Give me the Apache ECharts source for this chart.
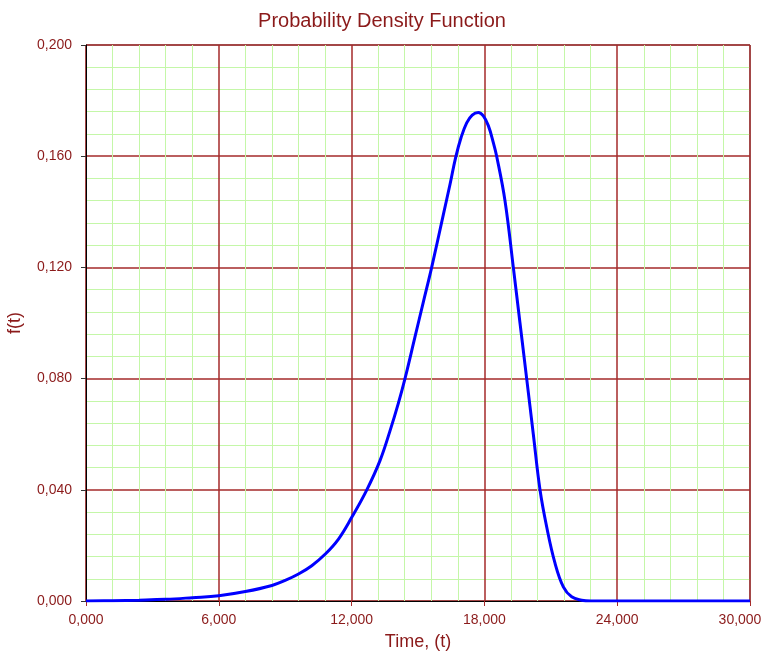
<!DOCTYPE html>
<html><head><meta charset="utf-8">
<script src="https://cdn.jsdelivr.net/npm/echarts@6/dist/echarts.min.js"></script>
<style>html,body{margin:0;padding:0;background:#fff}#c{width:764px;height:654px}</style>
</head><body><div id="c"></div>
<script>
const titleText = 'Probability Density Function';
const xName = 'Time, (t)';
const yName = 'f(t)';
const xTickLabels = ['0,000','6,000','12,000','18,000','24,000','30,000'];
const yTickLabels = ['0,000','0,040','0,080','0,120','0,160','0,200'];
const tValues = [0,1200,2400,3600,4800,6000,7200,8400,9000,9600,10200,10800,11400,12000,12682,13283,13735,14111,14412,14864,15240,15618,16145,16450,16700,16950,17200,17450,17724,17950,18177,18400,18554,18930,19307,19608,19910,20210,20512,20813,21190,21566,21943,22395,22800,30000];
const fValues = [0,0.0001,0.0003,0.0006,0.0012,0.0019,0.0034,0.0056,0.0074,0.0097,0.0127,0.0168,0.0222,0.0300,0.0399,0.0505,0.0612,0.0711,0.0800,0.0950,0.1075,0.1200,0.1390,0.1500,0.1595,0.1668,0.1720,0.1748,0.1757,0.1745,0.1710,0.1650,0.1600,0.1440,0.1200,0.1000,0.0800,0.0600,0.0400,0.0267,0.0136,0.0051,0.0015,0.0003,0,0];

const data = tValues.map((t,i)=>[t,fValues[i]]);
const txt = '#8b1a1a';
const major = '#a52a2a';
const minor = '#c4f7a8';
const font = 'Liberation Sans';
const chart = echarts.init(document.getElementById('c'));
chart.setOption({
  animation:false,
  title:{text:titleText,left:'center',top:6,textStyle:{color:txt,fontSize:20,fontWeight:'normal',fontFamily:font}},
  grid:{left:86,top:45,right:14,bottom:53,containLabel:false,outerBoundsMode:'none',show:true,borderColor:'#404040',borderWidth:1,backgroundColor:'#fff'},
  xAxis:{type:'value',min:0,max:30000,interval:6000,
    name:xName,nameLocation:'middle',nameGap:32,nameTextStyle:{color:txt,fontSize:18,fontFamily:font},
    axisLine:{show:true,onZero:false,lineStyle:{color:'#000',width:1}},
    axisTick:{show:true,length:5,lineStyle:{color:major}},
    axisLabel:{color:txt,fontSize:14,fontFamily:font,margin:12,
      formatter:v=>{const s=xTickLabels[Math.round(v/6000)];return v===30000?'{r|'+s+'}':s;},
      rich:{r:{color:txt,fontSize:14,fontFamily:font,padding:[0,20,0,0]}}},
    splitLine:{show:true,lineStyle:{color:major,width:1.5}},
    minorTick:{show:false,splitNumber:5},
    minorSplitLine:{show:true,lineStyle:{color:minor,width:1}}
  },
  yAxis:{type:'value',min:0,max:0.2,interval:0.04,
    name:yName,nameLocation:'middle',nameGap:62,nameRotate:90,nameTextStyle:{color:txt,fontSize:18,fontFamily:font},
    axisLine:{show:true,onZero:false,lineStyle:{color:'#000',width:1}},
    axisTick:{show:true,length:5,lineStyle:{color:'#333'}},
    axisLabel:{color:txt,fontSize:14,fontFamily:font,margin:14,formatter:v=>yTickLabels[Math.round(v/0.04)]},
    splitLine:{show:true,lineStyle:{color:major,width:1.5}},
    minorTick:{show:false,splitNumber:5},
    minorSplitLine:{show:true,lineStyle:{color:minor,width:1}}
  },
  series:[{type:'line',data:data,showSymbol:false,smooth:0.4,
    lineStyle:{color:'#0000ff',width:3},z:5}]
});
</script></body></html>
